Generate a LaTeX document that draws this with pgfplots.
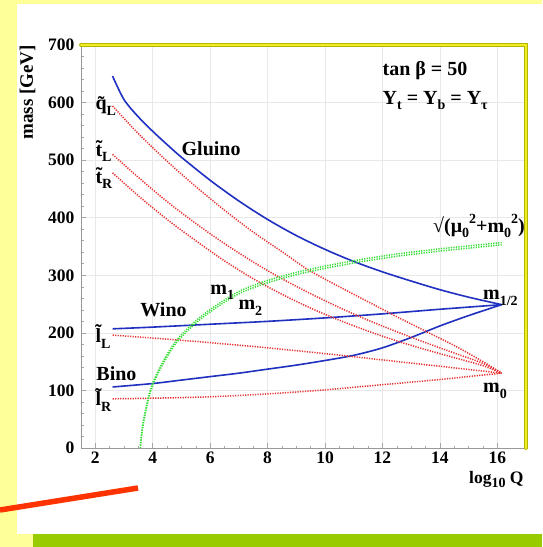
\documentclass[border=0pt]{standalone}
\usepackage{pgfplots}
\pgfplotsset{compat=1.18}
\usepackage{fontspec}
\setmainfont{Liberation Serif}
\definecolor{bgyellow}{HTML}{FFFF99}
\definecolor{barGreen}{HTML}{99CC00}
\definecolor{redline}{HTML}{FF3300}
\definecolor{curveblue}{HTML}{2030C0}
\definecolor{curvered}{HTML}{E83030}
\definecolor{curvegreen}{HTML}{33DD33}
\definecolor{frameyellow}{HTML}{EEEE22}
\definecolor{frameolive}{HTML}{B5B500}
\newcommand{\lb}{\fontsize{20}{22}\selectfont\bfseries}
\newcommand{\Sb}[1]{\raisebox{-0.28em}{\fontsize{14}{14}\selectfont #1}}
\newcommand{\Sp}[1]{\raisebox{0.45em}{\fontsize{14}{14}\selectfont #1}}
\pgfplotsset{
  redc/.style={curvered, line width=1.5pt, dash pattern=on 1.2pt off 1.3pt, smooth},
  bluec/.style={curveblue, line width=1.6pt, smooth},
  greenc/.style={curvegreen, line width=1.5pt, dash pattern=on 1.2pt off 1.3pt, smooth},
}
\begin{document}
\begin{tikzpicture}
\fill[bgyellow] (0pt,0pt) rectangle (542pt,-547pt);
\fill[white] (17pt,-4pt) rectangle (542pt,-534pt);
\fill[barGreen] (33pt,-534pt) rectangle (542pt,-547pt);
\draw[redline, line width=5.5pt] (0pt,-510pt) -- (138pt,-488pt);
\begin{axis}[
  at={(81pt,-448pt)}, anchor=south west,
  width=445pt, height=403pt, scale only axis,
  xmin=1.5, xmax=17, ymin=0, ymax=700,
  xtick={2,4,...,16}, ytick={0,100,...,700},
  minor x tick num=3, minor y tick num=4,
  tick pos=left, tick align=inside,
  major tick length=5pt, minor tick length=2.5pt,
  tick style={draw=gray!70, line width=0.6pt},
  axis line style={draw=gray!80, line width=0.9pt},
  grid=major, major grid style={draw=gray!18, line width=0.6pt},
  /pgf/number format/assume math mode=true,
  ticklabel style={font=\fontsize{17.5}{18}\selectfont\bfseries},
  yticklabel style={xshift=-3pt},
  clip=false,
]
% Gluino
\addplot[bluec] coordinates {
(2.6,646) (3.0,605) (3.5,575) (4.0,550) (4.5,527) (5.0,505) (6.0,465) (7.0,429)
(8.0,397) (9.0,369) (10.0,345) (11.0,324) (12.0,306) (13.0,290) (14.0,275) (15.0,262) (16.15,249)};
% Wino
\addplot[bluec] coordinates {
(2.6,207) (4,210) (6,215) (8,220) (10,226) (12,233) (14,241) (16.15,249)};
% Bino
\addplot[bluec] coordinates {
(2.6,106) (4,112) (5,118) (6,124) (7,130) (8,137) (9,144) (10,152) (11,161) (12,174) (13,192) (14,212) (15,230) (16.15,249)};
% q_L
\addplot[redc] coordinates {
(2.6,594) (3.5,546) (4.5,498) (5.5,454) (6.5,413) (7.5,375) (8.5,341) (9.4,310) (10.5,280) (11.5,254) (12.5,228) (13.5,203) (14.5,178) (15.5,150) (16.15,130)};
% t_L
\addplot[redc] coordinates {
(2.6,510) (3.5,470) (4.5,428) (5.5,390) (6.5,355) (7.5,323) (8.5,294) (9.5,268) (10.5,244) (11.5,222) (12.5,202) (13.5,183) (14.5,165) (15.5,147) (16.15,130)};
% t_R
\addplot[redc] coordinates {
(2.6,478) (3.5,438) (4.5,397) (5.5,360) (6.5,325) (7.5,294) (8.5,267) (9.5,243) (10.5,222) (11.5,203) (12.5,186) (13.5,171) (14.5,157) (15.5,143) (16.15,130)};
% l_L
\addplot[redc] coordinates {
(2.6,196) (4,191) (6,183) (8,174) (10,164) (12,153) (14,142) (16.15,130)};
% l_R
\addplot[redc] coordinates {
(2.6,85.5) (4,86.5) (6,89) (8,94) (10,101) (12,110) (14,119) (16.15,130)};
% sqrt(mu0^2+m0^2)
\addplot[greenc] coordinates {
(3.57,0) (3.62,25) (3.7,50) (3.85,85) (4.03,113) (4.4,150) (4.84,184) (5.48,216) (6.1,240) (7,268) (8,287) (9,301) (10,312) (11.2,323) (12.5,333) (14,342) (15,347) (16.15,353)};
\addplot[greenc, yshift=2.3pt] coordinates {
(3.57,0) (3.62,25) (3.7,50) (3.85,85) (4.03,113) (4.4,150) (4.84,184) (5.48,216) (6.1,240) (7,268) (8,287) (9,301) (10,312) (11.2,323) (12.5,333) (14,342) (15,347) (16.15,353)};
% frame top/right
\draw[frameolive, line width=3.8pt, line cap=round] (rel axis cs:0,1) -- (rel axis cs:1,1) -- (rel axis cs:1,0);
\draw[frameyellow, line width=2.4pt, line cap=round] (rel axis cs:0,1) -- (rel axis cs:1,1) -- (rel axis cs:1,0);
% labels
\node[anchor=base west, font=\lb, inner sep=0pt] at (axis cs:12.0,647) {tan β = 50};
\node[anchor=base west, font=\lb, inner sep=0pt] at (axis cs:12.0,597) {Y\Sb{t} = Y\Sb{b} = Y\Sb{τ}};
\node[anchor=base west, font=\lb, inner sep=0pt] at (axis cs:5.0,508) {Gluino};
\node[anchor=base west, font=\lb, inner sep=0pt] at (axis cs:3.56,228) {Wino};
\node[anchor=base west, font=\lb, inner sep=0pt] at (axis cs:2.03,118) {Bino};
\node[anchor=base west, font=\lb, inner sep=0pt] at (axis cs:6.0,267) {m\Sb{1}};
\node[anchor=base west, font=\lb, inner sep=0pt] at (axis cs:6.98,240) {m\Sb{2}};
\node[anchor=base west, font=\lb, inner sep=0pt] at (axis cs:15.5,258) {m\Sb{1/2}};
\node[anchor=base west, font=\lb, inner sep=0pt] at (axis cs:15.5,96) {m\Sb{0}};
\node[anchor=base west, font=\lb, inner sep=0pt] at (axis cs:13.76,375) {√(μ\Sb{0}\Sp{2}+m\Sb{0}\Sp{2})};
\node[anchor=base west, font=\lb, inner sep=0pt] at (axis cs:2.0,588) {\~q\Sb{L}};
\node[anchor=base west, font=\lb, inner sep=0pt] at (axis cs:2.0,507) {\~t\Sb{L}};
\node[anchor=base west, font=\lb, inner sep=0pt] at (axis cs:2.0,460) {\~t\Sb{R}};
\node[anchor=base west, font=\lb, inner sep=0pt] at (axis cs:2.0,183) {\~l\Sb{L}};
\node[anchor=base west, font=\lb, inner sep=0pt] at (axis cs:2.0,73) {\~l\Sb{R}};
\end{axis}
\node[rotate=90, anchor=east, font=\fontsize{19}{20}\selectfont\bfseries, inner sep=0pt] at (27.5pt,-45pt) {mass [GeV]};
\node[anchor=base west, font=\fontsize{17.5}{18}\selectfont\bfseries, inner sep=0pt] at (469pt,-483pt) {log\Sb{10} Q};
\pgfresetboundingbox
\path[use as bounding box] (0pt,0pt) rectangle (542pt,-547pt);
\end{tikzpicture}
\end{document}
